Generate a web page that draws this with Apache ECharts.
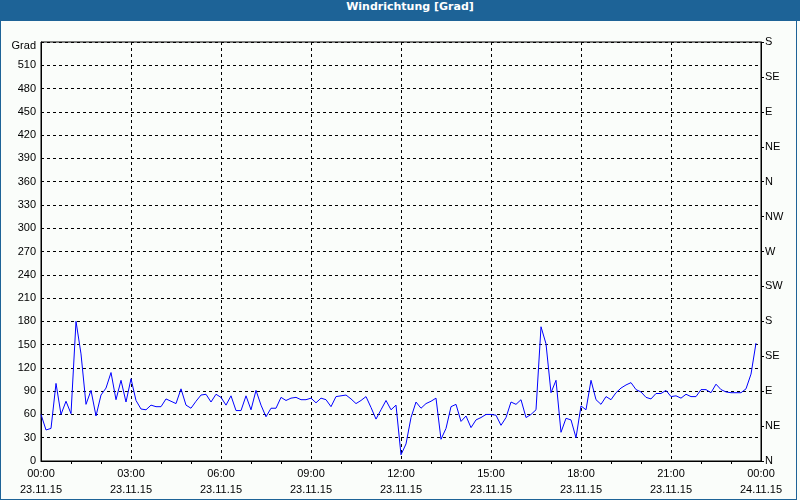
<!DOCTYPE html>
<html>
<head>
<meta charset="utf-8">
<script src="https://cdn.jsdelivr.net/npm/echarts@6/dist/echarts.min.js"></script>
<style>
html,body{margin:0;padding:0;background:#fafdfa;}
#wrap{position:absolute;left:0;top:0;width:795px;height:499px;border-left:1px solid #1d6397;border-right:1px solid #1d6397;border-bottom:1px solid #1d6397;background:#fafdfa;}
#bar{position:absolute;left:0;top:0;width:800px;height:21px;background:#1d6397;}
#title{position:absolute;left:0;top:0;width:820px;height:21px;line-height:20px;text-align:center;color:#fff;font:bold 11px "DejaVu Sans",sans-serif;}
#chart{position:absolute;left:0;top:0;width:800px;height:500px;}
</style>
</head>
<body>
<div id="wrap"></div>
<div id="bar"></div>
<div id="title">Windrichtung [Grad]</div>
<div id="chart"></div>
<script>
// wind direction in degrees, one reading every 10 minutes from 23.11.15 00:00
const windDeg = [
 60,40,42,100,60,77,61,180,138,73,91,58,85,94,114,79,104,76,106,78,
 67,66,72,70,70,80,77,74,93,72,68,77,85,86,76,86,82,72,84,65,
 65,84,66,91,72,57,68,68,82,78,81,82,79,79,81,75,81,79,70,83,
 84,85,80,74,78,83,69,54,66,78,66,72,8,22,56,76,68,74,77,81,
 28,42,70,73,51,58,43,53,56,60,60,59,46,56,76,73,79,56,60,66,
 173,151,88,104,37,55,53,30,71,66,104,79,73,83,79,88,94,98,101,92,
 89,82,80,87,87,91,83,84,81,86,83,83,92,92,88,99,92,89,88,88,
 88,93,112,152
];
const stepMinutes = 10;
const leftTicks = [0,30,60,90,120,150,180,210,240,270,300,330,360,390,420,450,480,510,540];
const compass = ['N','NE','E','SE','S','SW','W','NW'];
const dayLabels = ['23.11.15','24.11.15'];

const seriesData = windDeg.map((v,i)=>[i*stepMinutes/60, v]);
const fontFam = '"Liberation Sans", Arial, sans-serif';

const chart = echarts.init(document.getElementById('chart'), null, {renderer:'canvas'});
chart.setOption({
  animation:false,
  backgroundColor:'transparent',
  grid:{left:41,right:39,top:42,bottom:39,show:true,borderColor:'#000',borderWidth:1,backgroundColor:'transparent'},
  xAxis:{
    type:'value',min:0,max:24,interval:3,
    axisLine:{show:true,lineStyle:{color:'#000',width:1}},
    axisTick:{show:false},
    minorTick:{show:true,splitNumber:3,length:3,lineStyle:{color:'#000',width:1}},
    minorSplitLine:{show:false},
    splitLine:{show:true,lineStyle:{color:'#000',type:[3,3],width:1}},
    axisLabel:{
      margin:5,color:'#000',fontFamily:fontFam,fontSize:11,lineHeight:16,
      formatter:function(v){
        const h = Math.round(v)%24;
        const d = v>=24 ? dayLabels[1] : dayLabels[0];
        return (h<10?'0':'')+h+':00\n'+d;
      }
    }
  },
  yAxis:[{
    type:'value',min:0,max:540,interval:30,position:'left',
    axisLine:{show:true,lineStyle:{color:'#000',width:1}},
    axisTick:{show:false},
    splitLine:{show:true,lineStyle:{color:'#000',type:[3,3],width:1}},
    axisLabel:{
      margin:5,color:'#000',fontFamily:fontFam,fontSize:11,
      customValues:leftTicks,
      formatter:function(v){ return v===540 ? '{g|Grad}' : String(v); },
      rich:{g:{fontFamily:fontFam,fontSize:11,color:'#000',padding:[7,0,0,0]}}
    }
  },{
    type:'value',min:0,max:540,interval:45,position:'right',
    axisLine:{show:true,lineStyle:{color:'#000',width:1}},
    axisTick:{show:true,length:3,lineStyle:{color:'#000'}},
    splitLine:{show:false},
    axisLabel:{
      margin:4,color:'#000',fontFamily:fontFam,fontSize:11,
      formatter:function(v){ return compass[Math.round(v/45)%8]; }
    }
  }],
  series:[{
    type:'line',data:seriesData,yAxisIndex:0,
    showSymbol:false,symbol:'none',smooth:false,
    lineStyle:{color:'#0000ff',width:1},
    z:5
  }]
});
</script>
</body>
</html>
